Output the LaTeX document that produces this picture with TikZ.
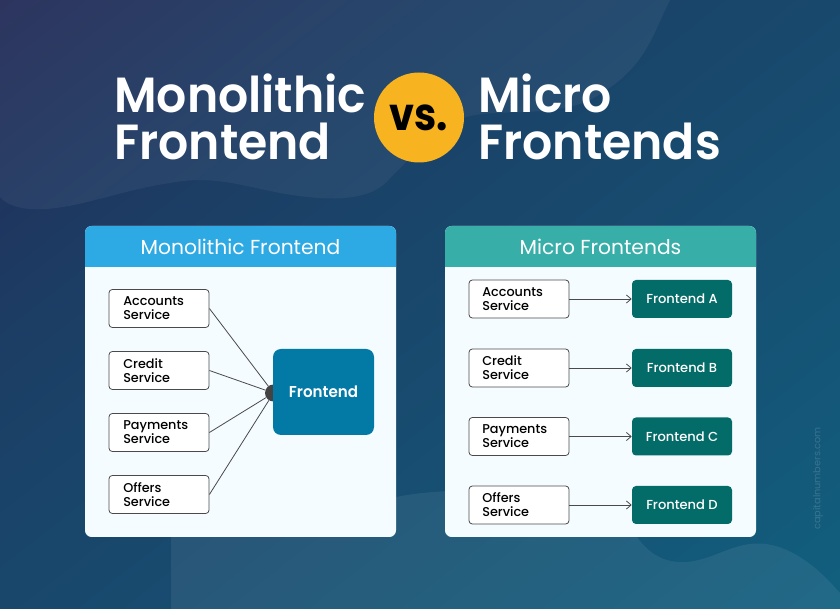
\documentclass[tikz,border=0pt]{standalone}
\usepackage{fontspec}
\setmainfont{Poppins}
\newfontfamily\titlefont[FakeStretch=0.96]{Poppins SemiBold}
\newfontfamily\vsfont[FakeStretch=0.88]{Poppins}
\newfontfamily\bodyfont{Poppins}
\newfontfamily\medfont{Poppins Medium}
\usetikzlibrary{arrows.meta}
\definecolor{bgA}{HTML}{222B57}
\definecolor{bgB}{HTML}{1C3E65}
\definecolor{bgC}{HTML}{115F7E}
\definecolor{panelbg}{HTML}{F4FCFF}
\definecolor{headblue}{HTML}{2DA9E3}
\definecolor{headteal}{HTML}{38AEA9}
\definecolor{feblue}{HTML}{0379A6}
\definecolor{feteal}{HTML}{036C68}
\definecolor{vsgold}{HTML}{F8B320}
\definecolor{linegray}{HTML}{4A4A4A}
\pgfdeclareverticalshading{bgshade}{100bp}{color(0bp)=(bgC); color(15bp)=(bgC); color(65bp)=(bgB); color(85bp)=(bgA); color(100bp)=(bgA)}
\tikzset{
  x=0.75pt,y=-0.75pt,
  svc/.style={draw=linegray,line width=0.6pt,fill=white,rounded corners=2.5pt,minimum width=75pt,minimum height=28.5pt,inner sep=0pt},
  svclabel/.style={text=black,align=left,anchor=west,font=\medfont\fontsize{9.6}{10.5}\selectfont,inner sep=0pt},
  fea/.style={fill=feteal,rounded corners=3pt,minimum width=75pt,minimum height=28.5pt,inner sep=0pt,text=white,font=\medfont\fontsize{9.8}{12}\selectfont},
  fem/.style={fill=feblue,rounded corners=6pt,minimum width=75.75pt,minimum height=64.5pt,inner sep=0pt,text=white,font=\titlefont\fontsize{11.8}{13}\selectfont},
  title/.style={text=white,align=left,anchor=west,inner sep=0pt,font=\titlefont\fontsize{37}{36}\selectfont},
  headtext/.style={text=white,font=\bodyfont\fontsize{15.2}{18}\selectfont},
  link/.style={draw=linegray,line width=0.6pt},
  arrowlink/.style={link,-{Straight Barb[length=3.5pt,width=6pt]}},
}
\begin{document}
\begin{tikzpicture}
\useasboundingbox (0,0) rectangle (840,609);
\shade[shading=bgshade,shading angle=38] (0,0) rectangle (840,609);
% top-left wave
\fill[white,opacity=0.05] (0,0) -- (670,0) .. controls (650,40) and (645,70) .. (590,100)
  .. controls (550,118) and (500,108) .. (466,117)
  .. controls (425,135) and (410,160) .. (391,177)
  .. controls (370,205) and (320,200) .. (280,193)
  .. controls (240,185) and (210,175) .. (170,183)
  .. controls (120,190) and (70,212) .. (30,209)
  .. controls (15,208) and (5,203) .. (0,197) -- cycle;
% bottom wave
\fill[white,opacity=0.07] (171,609) -- (171,505) .. controls (280,510) and (340,510) .. (396,497)
  .. controls (430,490) and (470,490) .. (520,490)
  .. controls (590,490) and (615,505) .. (637,537)
  .. controls (650,555) and (665,563) .. (686,562)
  .. controls (715,560) and (735,540) .. (766,544)
  .. controls (795,548) and (820,570) .. (840,593) -- (840,609) -- cycle;
% title
\node[title] (t1) at (114,93.3) {Monolithic};
\node[title] (t2) at (114,141.3) {Frontend};
\node[title] (t3) at (478,93.3) {Micro};
\node[title] (t4) at (478,141.3) {Frontends};
\node[circle,fill=vsgold,minimum size=67.5pt,inner sep=0pt,text=black,font=\vsfont\fontsize{34}{36}\selectfont\bfseries] (vs) at (419,117.5) {vs.};
% left panel
\fill[panelbg,rounded corners=5pt] (85,226) rectangle (396,537);
\begin{scope}
\clip[rounded corners=5pt] (85,226) rectangle (396,537);
\fill[headblue] (85,226) rectangle (396,267.5);
\end{scope}
\node[headtext] (h1) at (240.5,247) {Monolithic Frontend};
\node[svc] (a1) at (159,308.5) {};
\node[svc] (a2) at (159,370.5) {};
\node[svc] (a3) at (159,432.5) {};
\node[svc] (a4) at (159,494.5) {};
\node[svclabel] (la1) at (123,308.5) {Accounts\\Service};
\node[svclabel] (la2) at (123,370.5) {Credit\\Service};
\node[svclabel] (la3) at (123,432.5) {Payments\\Service};
\node[svclabel] (la4) at (123,494.5) {Offers\\Service};
\node[circle,fill=linegray!90!black,minimum size=12.75pt,inner sep=0pt] (hub) at (273.5,393) {};
\node[fem] (fe) at (323.5,392) {Frontend};
\draw[link] (a1.east) -- (hub);
\draw[link] (a2.east) -- (hub);
\draw[link] (a3.east) -- (hub);
\draw[link] (a4.east) -- (hub);
% right panel
\fill[panelbg,rounded corners=5pt] (445,226) rectangle (756,537);
\begin{scope}
\clip[rounded corners=5pt] (445,226) rectangle (756,537);
\fill[headteal] (445,226) rectangle (756,267.5);
\end{scope}
\node[headtext] (h2) at (600.5,247) {Micro Frontends};
\node[svc] (b1) at (519,299) {};
\node[svc] (b2) at (519,368) {};
\node[svc] (b3) at (519,436.5) {};
\node[svc] (b4) at (519,505) {};
\node[svclabel] (lb1) at (482,299) {Accounts\\Service};
\node[svclabel] (lb2) at (482,368) {Credit\\Service};
\node[svclabel] (lb3) at (482,436.5) {Payments\\Service};
\node[svclabel] (lb4) at (482,505) {Offers\\Service};
\node[fea] (f1) at (682,299) {Frontend A};
\node[fea] (f2) at (682,368) {Frontend B};
\node[fea] (f3) at (682,436.5) {Frontend C};
\node[fea] (f4) at (682,505) {Frontend D};
\draw[arrowlink] (b1) -- (f1);
\draw[arrowlink] (b2) -- (f2);
\draw[arrowlink] (b3) -- (f3);
\draw[arrowlink] (b4) -- (f4);
\node[rotate=90,text=white,opacity=0.16,font=\bodyfont\fontsize{7.3}{10}\selectfont] (wm) at (818,478.5) {capitalnumbers.com};
\end{tikzpicture}
\end{document}
